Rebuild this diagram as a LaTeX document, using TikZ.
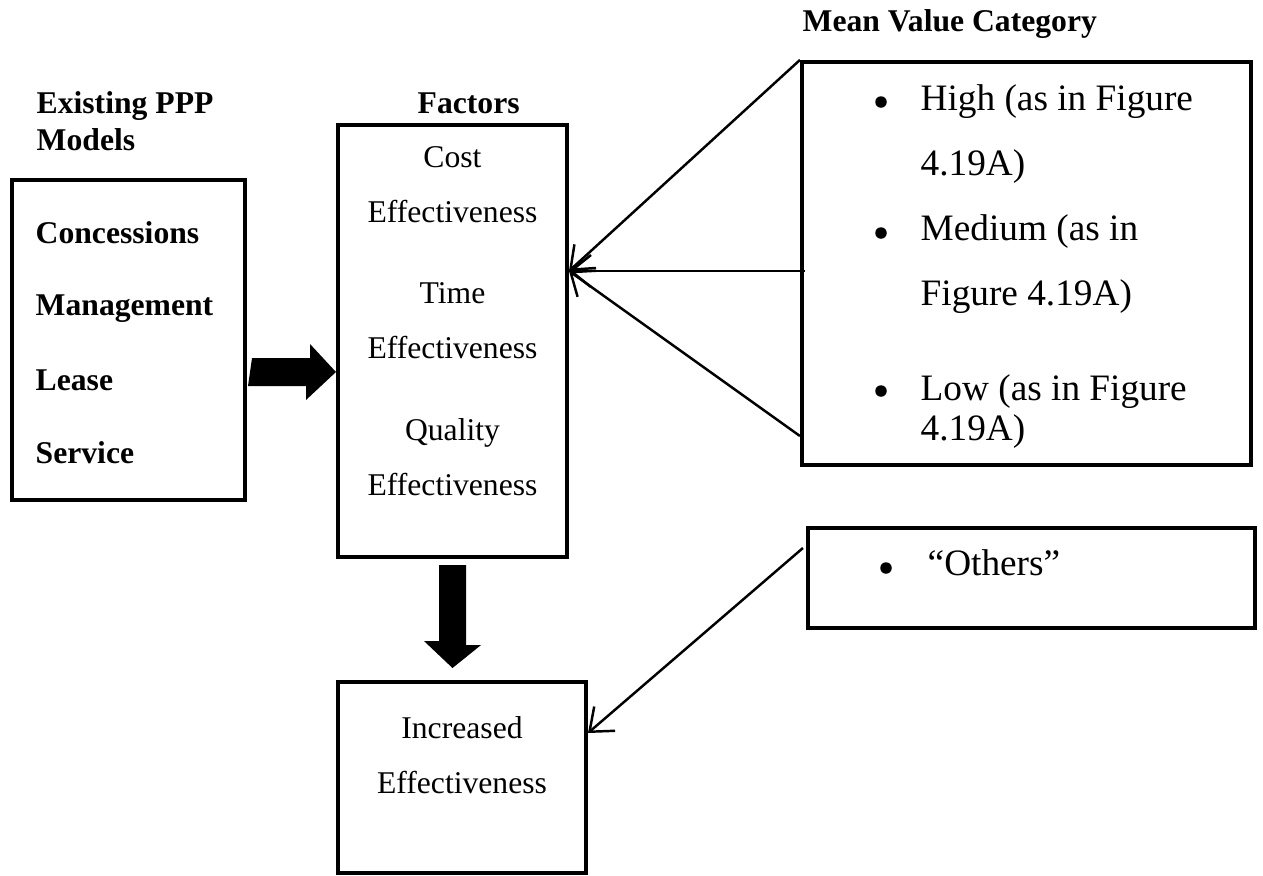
\documentclass[tikz,border=0pt]{standalone}
\usepackage{fontspec}
\setmainfont{Liberation Serif}
\usetikzlibrary{arrows.meta}

\tikzset{
  box/.style={draw, line width=1.1pt, rectangle, inner sep=0pt},
  txt/.style={anchor=base, inner sep=0pt, font=\fontsize{9}{11}\selectfont},
  head/.style={anchor=base west, inner sep=0pt, font=\fontsize{9}{11}\selectfont\bfseries},
  item/.style={anchor=base west, inner sep=0pt, font=\fontsize{10.6}{13}\selectfont},
  dot/.style={circle, fill, inner sep=0pt, minimum size=0.115cm},
  link/.style={line width=0.7pt, -{Straight Barb[length=2mm,width=3.2mm]}}
}

\begin{document}
\begin{tikzpicture}[x=0.01cm, y=-0.01cm]
  \useasboundingbox (0,0) rectangle (1263,875);

  % boxes
  \node[box, minimum width=2.33cm, minimum height=3.20cm] (models) at (128.5,340) {};
  \node[box, minimum width=2.29cm, minimum height=4.32cm] (factors) at (452.5,341) {};
  \node[box, minimum width=2.48cm, minimum height=1.91cm] (result) at (462,777.5) {};
  \node[box, minimum width=4.49cm, minimum height=4.03cm] (category) at (1026.5,263.5) {};
  \node[box, minimum width=4.47cm, minimum height=1.00cm] (others) at (1031.5,578) {};

  % headings
  \node[head] (hmodels) at (36,113) {Existing PPP};
  \node[head] (hmodels2) at (36,150) {Models};
  \node[head] (hfactors) at (417,113) {Factors};
  \node[head] (hcategory) at (802,31) {Mean Value Category};

  % PPP models
  \node[head] (concessions) at (35,243) {Concessions};
  \node[head] (management) at (35,315) {Management};
  \node[head] (lease) at (35,390) {Lease};
  \node[head] (service) at (35,463) {Service};

  % factors
  \node[txt] (cost) at (452.5,167) {Cost};
  \node[txt] (cost2) at (452.5,222) {Effectiveness};
  \node[txt] (time) at (452.5,303) {Time};
  \node[txt] (time2) at (452.5,358) {Effectiveness};
  \node[txt] (quality) at (452.5,440) {Quality};
  \node[txt] (quality2) at (452.5,495) {Effectiveness};

  % result
  \node[txt] (incr) at (462,738) {Increased};
  \node[txt] (incr2) at (462,793) {Effectiveness};

  % categories
  \node[dot] (b1) at (881,102) {};
  \node[item] (high) at (920,110) {High (as in Figure};
  \node[item] (high2) at (920,175) {4.19A)};
  \node[dot] (b2) at (881,233) {};
  \node[item] (medium) at (920,240) {Medium (as in};
  \node[item] (medium2) at (920,305) {Figure 4.19A)};
  \node[dot] (b3) at (881,391) {};
  \node[item] (low) at (920,400) {Low (as in Figure};
  \node[item] (low2) at (920,440) {4.19A)};
  \node[dot] (b4) at (886,568) {};
  \node[item] (oth) at (927,575) {“Others”};

  % thick arrows
  \fill (models.east |- 0,372) ++(5,-14) -- ++(58,0) -- ++(0,-14)
    -- (factors.west |- 0,372) -- ++(-30,28) -- ++(0,-14) -- ++(-58,0) -- cycle;
  \path (factors.south |- result.north) ++(0,-12) coordinate (dtip);
  \fill (factors.south) ++(-13.5,6) -- ++(27,0) -- ++(0,80) -- ++(15,0)
    -- (dtip) -- ++(-28.5,-27) -- ++(15,0) -- cycle;

  % thin arrows
  \coordinate (ftip) at (factors.east |- 0,271);
  \draw[link] (category.north west) -- (ftip);
  \draw[link] ([xshift=0.05cm]category.west |- 0,271) -- (ftip);
  \draw[link] (category.west |- 0,436) -- (ftip);
  \draw[link] ([xshift=-0.03cm]others.west |- 0,548) -- (result.east |- 0,733);
\end{tikzpicture}
\end{document}
